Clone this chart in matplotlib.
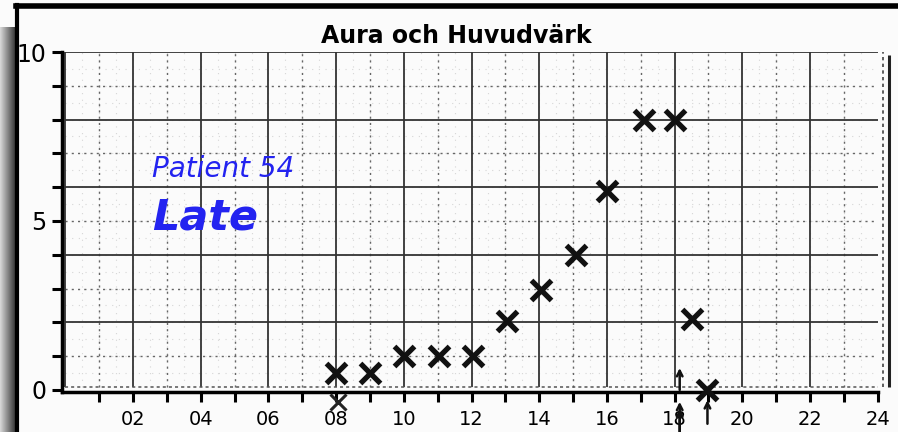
import numpy as np
import matplotlib
matplotlib.use('Agg')
import matplotlib.pyplot as plt
from matplotlib.lines import Line2D

plt.rcParams['font.family'] = ['DejaVu Sans']

# data
hours = [8.0, 9.0, 10.0, 11.05, 12.05, 13.05, 14.05, 15.1, 16.0, 17.1, 18.0, 18.5, 18.95]
scores = [0.5, 0.5, 1.0, 1.0, 1.0, 2.05, 2.95, 4.0, 5.9, 8.0, 8.0, 2.1, 0.0]

x_ticks = list(range(1, 25))
x_labels = ['', '02', '', '04', '', '06', '', '08', '', '10', '', '12',
            '', '14', '', '16', '', '18', '', '20', '', '22', '', '24']
y_ticks = list(range(0, 11))
y_labels = ['0', '', '', '', '', '5', '', '', '', '', '10']

# pen marks below the axis (scribbled x at 08, arrows near 18/19)
below_marks = [(8.05, -0.35)]
arrows = [((18.15, 0.0), (18.15, 0.65)),
          ((18.15, -1.3), (18.15, -0.35)),
          ((18.15, -1.3), (18.15, -0.55)),
          ((18.97, -1.0), (18.97, -0.3))]

fig = plt.figure(figsize=(8.98, 4.32), dpi=100)
fig.patch.set_facecolor('#fbfbfb')

# scan shadow on the left + frame
sh = fig.add_axes([0, 0, 15/898, (432-27)/432])
sh.imshow(np.linspace(0.85, 0.2, 40)[None, :], cmap='gray', vmin=0, vmax=1, aspect='auto')
sh.axis('off')
fig.add_artist(Line2D([17/898, 17/898], [0, (432-5)/432], color='black', lw=3))
fig.add_artist(Line2D([16/898, 1], [(432-6)/432, (432-6)/432], color='black', lw=4))

ax = fig.add_axes([62/898, 40/432, 815.7/898, 340/432])
ax.set_facecolor('none')
ax.set_xlim(-0.1, 24)
ax.set_ylim(-0.06, 10)

# graph paper
for v in np.arange(0.5, 10, 0.5):
    ax.hlines(v, 0, 24.15, color='#d6d6d6', lw=0.8, ls=(0, (1, 5)))
for v in np.arange(0.5, 24, 0.5):
    ax.vlines(v, 0.08, 10, color='#d6d6d6', lw=0.8, ls=(0, (1, 5)))
for v in range(1, 10, 2):
    ax.hlines(v, 0, 24.15, color='#666666', lw=1.0, ls=(0, (1.5, 3)))
for v in range(1, 24, 2):
    ax.vlines(v, 0.08, 10, color='#666666', lw=1.0, ls=(0, (1.5, 3)))
for v in range(2, 11, 2):
    ax.hlines(v, 0, 24.15, color='#333333', lw=1.3)
for v in range(0, 24, 2):
    ax.vlines(v, 0.08, 10, color='#333333', lw=1.3)
ax.hlines(0.09, 0, 24.15, color='#555555', lw=1.1, ls=(0, (2, 2)))
ax.vlines(24.15, 0.08, 10, color='#444444', lw=1.2, ls=(0, (2, 2)), clip_on=False)
ax.vlines(24.32, 0.09, 9.9, color='#222222', lw=2.2, clip_on=False)

ax.plot(hours, scores, ls='none', marker='x', ms=14, mew=3.8, color='#111111', clip_on=False, zorder=5)
for bx, by in below_marks:
    ax.plot(bx, by, marker='x', ms=11, mew=2.2, color='#222222', clip_on=False, zorder=5)
for (x0, y0), (x1, y1) in arrows:
    ax.annotate('', xy=(x1, y1), xytext=(x0, y0), annotation_clip=False,
                arrowprops=dict(arrowstyle='->', lw=1.8, color='#111111', shrinkA=0, shrinkB=0))

for s in ['top', 'right']:
    ax.spines[s].set_visible(False)
ax.spines['left'].set_linewidth(2.5)
ax.spines['bottom'].set_linewidth(2.5)
ax.set_xticks(x_ticks)
ax.set_xticklabels(x_labels, fontsize=14)
ax.set_yticks(y_ticks)
ax.set_yticklabels(y_labels, fontsize=17)
ax.tick_params(axis='both', length=7, width=2.2, direction='out', color='black')
ax.tick_params(axis='x', pad=6)
ax.tick_params(axis='y', pad=4)

ax.text(2.55, 6.3, 'Patient 54', color='#2323f0', fontsize=20, style='italic', va='baseline')
ax.text(2.55, 4.76, 'Late', color='#2323f0', fontsize=31, style='italic', weight='bold', va='baseline')

fig.text(456/898, (432-43)/432, 'Aura och Huvudvärk', ha='center', va='baseline',
         fontsize=17, weight='bold')

plt.savefig('out.png', dpi=100)
